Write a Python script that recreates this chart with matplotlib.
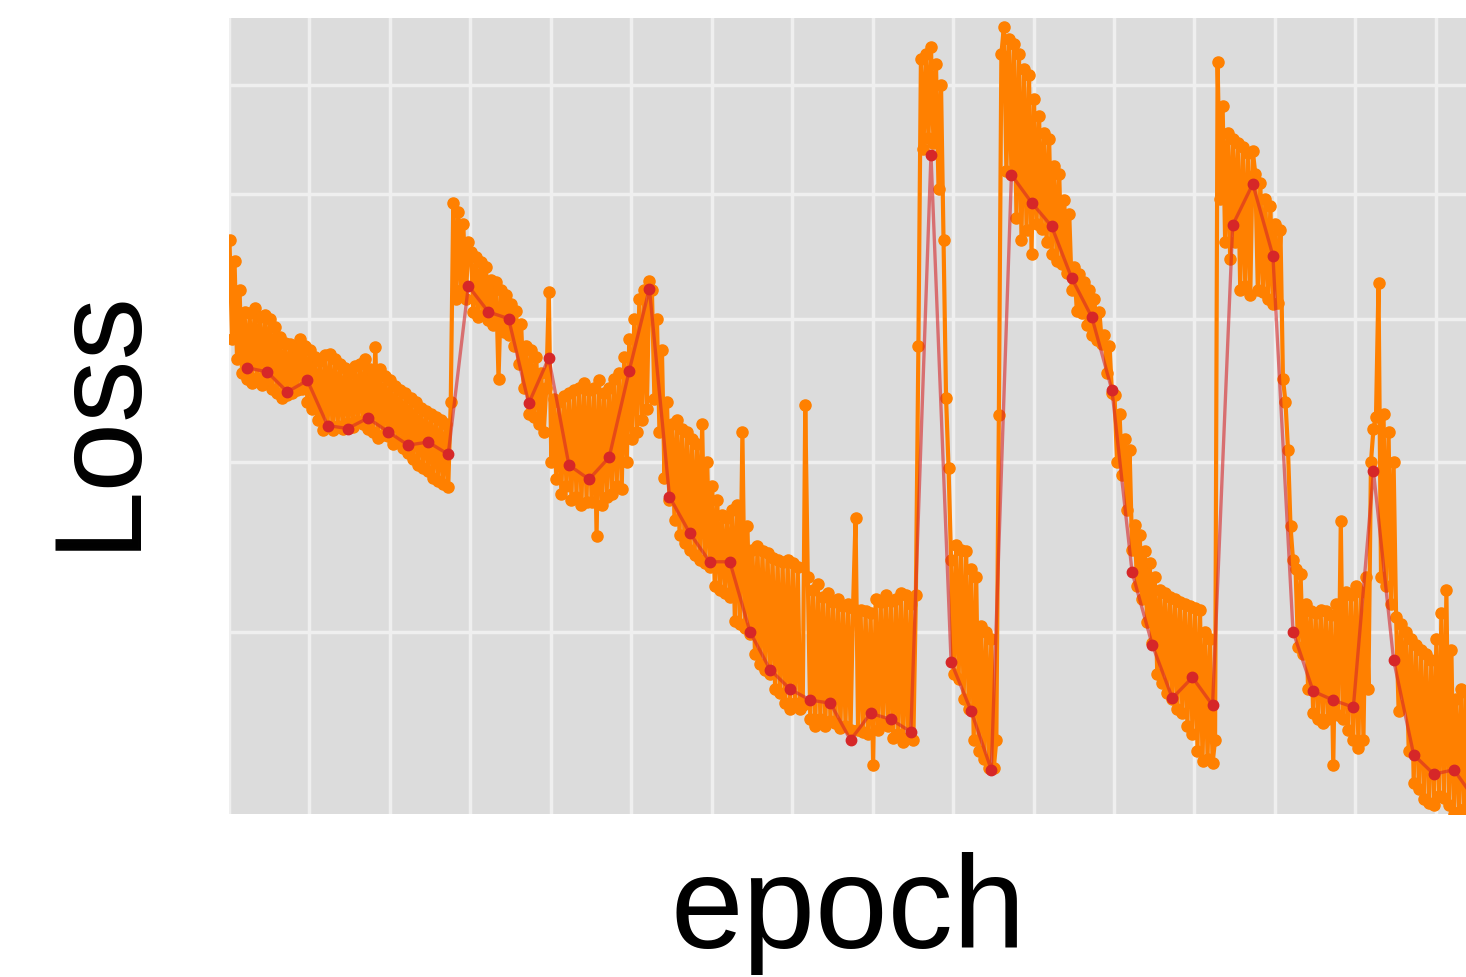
import numpy as np
import matplotlib
matplotlib.use("Agg")
import matplotlib.pyplot as plt

# per-iteration training loss, 8 readings per epoch (rows = epochs)
iter_loss = [
    [0.762, 0.685, 0.745, 0.670, 0.722, 0.660, 0.705, 0.656],
    [0.704, 0.653, 0.708, 0.657, 0.701, 0.652, 0.703, 0.655],
    [0.700, 0.649, 0.694, 0.646, 0.686, 0.643, 0.682, 0.645],
    [0.681, 0.646, 0.678, 0.648, 0.685, 0.649, 0.680, 0.640],
    [0.677, 0.635, 0.672, 0.628, 0.669, 0.621, 0.673, 0.624],
    [0.674, 0.621, 0.670, 0.624, 0.667, 0.622, 0.664, 0.626],
    [0.660, 0.623, 0.665, 0.627, 0.667, 0.625, 0.670, 0.622],
    [0.663, 0.620, 0.679, 0.616, 0.663, 0.618, 0.658, 0.617],
    [0.655, 0.612, 0.651, 0.614, 0.648, 0.609, 0.646, 0.606],
    [0.643, 0.602, 0.640, 0.598, 0.636, 0.596, 0.634, 0.594],
    [0.632, 0.590, 0.630, 0.588, 0.628, 0.586, 0.625, 0.584],
    [0.640, 0.793, 0.715, 0.785, 0.722, 0.775, 0.715, 0.760],
    [0.752, 0.705, 0.748, 0.701, 0.744, 0.703, 0.740, 0.699],
    [0.730, 0.695, 0.728, 0.656, 0.722, 0.690, 0.718, 0.688],
    [0.711, 0.680, 0.706, 0.667, 0.696, 0.650, 0.680, 0.632],
    [0.677, 0.630, 0.672, 0.625, 0.660, 0.620, 0.650, 0.720],
    [0.600, 0.642, 0.589, 0.640, 0.580, 0.644, 0.585, 0.646],
    [0.576, 0.648, 0.578, 0.650, 0.573, 0.653, 0.575, 0.648],
    [0.575, 0.650, 0.554, 0.655, 0.573, 0.646, 0.578, 0.650],
    [0.580, 0.656, 0.585, 0.660, 0.583, 0.672, 0.600, 0.685],
    [0.615, 0.700, 0.620, 0.715, 0.628, 0.722, 0.635, 0.729],
    [0.722, 0.642, 0.700, 0.620, 0.677, 0.590, 0.640, 0.576],
    [0.625, 0.564, 0.628, 0.555, 0.622, 0.550, 0.620, 0.546],
    [0.615, 0.543, 0.612, 0.540, 0.625, 0.538, 0.600, 0.536],
    [0.585, 0.525, 0.576, 0.523, 0.567, 0.521, 0.565, 0.519],
    [0.570, 0.506, 0.573, 0.504, 0.620, 0.502, 0.560, 0.499],
    [0.546, 0.488, 0.548, 0.483, 0.545, 0.480, 0.544, 0.478],
    [0.541, 0.470, 0.540, 0.468, 0.539, 0.463, 0.540, 0.460],
    [0.538, 0.463, 0.536, 0.460, 0.462, 0.638, 0.530, 0.455],
    [0.523, 0.452, 0.526, 0.455, 0.519, 0.452, 0.521, 0.454],
    [0.516, 0.453, 0.518, 0.451, 0.514, 0.452, 0.515, 0.450],
    [0.513, 0.565, 0.450, 0.512, 0.449, 0.511, 0.448, 0.510],
    [0.433, 0.518, 0.450, 0.516, 0.453, 0.520, 0.452, 0.517],
    [0.446, 0.518, 0.448, 0.521, 0.444, 0.520, 0.446, 0.515],
    [0.445, 0.520, 0.680, 0.925, 0.840, 0.930, 0.850, 0.937],
    [0.845, 0.920, 0.805, 0.900, 0.762, 0.643, 0.596, 0.540],
    [0.478, 0.549, 0.475, 0.546, 0.465, 0.545, 0.460, 0.535],
    [0.445, 0.530, 0.440, 0.503, 0.436, 0.500, 0.432, 0.496],
    [0.432, 0.445, 0.631, 0.930, 0.958, 0.820, 0.945, 0.818],
    [0.940, 0.780, 0.930, 0.762, 0.915, 0.770, 0.910, 0.750],
    [0.886, 0.775, 0.870, 0.771, 0.855, 0.760, 0.849, 0.750],
    [0.825, 0.745, 0.818, 0.742, 0.795, 0.735, 0.783, 0.722],
    [0.740, 0.706, 0.734, 0.704, 0.728, 0.695, 0.722, 0.688],
    [0.715, 0.684, 0.705, 0.681, 0.688, 0.660, 0.680, 0.646],
    [0.645, 0.600, 0.632, 0.592, 0.615, 0.570, 0.608, 0.546],
    [0.561, 0.525, 0.555, 0.518, 0.545, 0.505, 0.538, 0.494],
    [0.530, 0.478, 0.523, 0.473, 0.521, 0.468, 0.519, 0.465],
    [0.518, 0.460, 0.516, 0.458, 0.515, 0.452, 0.514, 0.448],
    [0.513, 0.440, 0.512, 0.435, 0.500, 0.436, 0.496, 0.434],
    [0.445, 0.922, 0.796, 0.880, 0.760, 0.855, 0.746, 0.849],
    [0.760, 0.845, 0.722, 0.842, 0.725, 0.836, 0.718, 0.838],
    [0.818, 0.722, 0.810, 0.720, 0.796, 0.715, 0.790, 0.711],
    [0.775, 0.712, 0.770, 0.656, 0.640, 0.608, 0.560, 0.540],
    [0.535, 0.492, 0.532, 0.488, 0.515, 0.470, 0.511, 0.458],
    [0.510, 0.455, 0.512, 0.453, 0.511, 0.455, 0.509, 0.433],
    [0.515, 0.457, 0.563, 0.455, 0.522, 0.450, 0.520, 0.445],
    [0.525, 0.441, 0.522, 0.445, 0.530, 0.470, 0.600, 0.622],
    [0.630, 0.727, 0.530, 0.632, 0.525, 0.620, 0.515, 0.600],
    [0.508, 0.459, 0.504, 0.462, 0.500, 0.440, 0.496, 0.425],
    [0.493, 0.422, 0.490, 0.4175, 0.488, 0.416, 0.485, 0.415],
    [0.496, 0.419, 0.510, 0.418, 0.523, 0.415, 0.490, 0.411],
    [0.465, 0.412, 0.470, 0.413, 0.468, 0.411, 0.470, 0.411],
]

# loss at the end of each epoch
epoch_loss = [
    0.664, 0.661, 0.647, 0.655, 0.624, 0.622, 0.629, 0.620, 0.611, 0.613,
    0.605, 0.725, 0.705, 0.700, 0.639, 0.671, 0.598, 0.589, 0.603, 0.662,
    0.723, 0.578, 0.556, 0.539, 0.539, 0.500, 0.480, 0.470, 0.4645, 0.463,
    0.445, 0.458, 0.455, 0.449, 0.835, 0.484, 0.459, 0.431, 0.817, 0.793,
    0.773, 0.731, 0.701, 0.648, 0.533, 0.493, 0.4655, 0.476, 0.462, 0.774,
    0.809, 0.749, 0.500, 0.469, 0.4645, 0.461, 0.594, 0.485, 0.438, 0.429,
    0.431, 0.418,
]

per_epoch = len(iter_loss[0])
it_y = np.array(iter_loss).ravel()
it_x = np.arange(1, len(it_y) + 1) / per_epoch
ep_y = np.array(epoch_loss)
ep_x = np.arange(1, len(ep_y) + 1)

fig = plt.figure(figsize=(14.66, 9.78), dpi=100)
ax = fig.add_axes([229 / 1466, 163 / 978, 1 - 229 / 1466, (815 - 19) / 978])
ax.set_facecolor("#dcdcdc")

ax.plot(it_x, it_y, color="#ff8000", lw=3, marker="o", ms=8,
        mec="#ff8000", zorder=3)
ax.plot(ep_x, ep_y, color="#d62728", lw=2.4, alpha=0.6, zorder=4)
ax.plot(ep_x, ep_y, color="#d62728", lw=0, marker="o", ms=7.5, zorder=5)

ax.set_yscale("log")
ax.set_xlim(0.1, 61.6)
ax.set_ylim(0.411, 0.967)
ax.set_xticks(np.arange(0.1, 62, 4))
ax.set_yticks([0.5, 0.6, 0.7, 0.8, 0.9])
ax.yaxis.set_minor_locator(matplotlib.ticker.NullLocator())
ax.set_xticklabels([])
ax.set_yticklabels([])
ax.tick_params(length=0)
ax.grid(True, color="#efefef", lw=2.5, zorder=0)
ax.set_axisbelow(True)
for s in ax.spines.values():
    s.set_visible(False)

fig.text(100 / 1466, 1 - 418 / 978, "Loss", rotation=90, ha="center", va="center",
         fontsize=90, family="Liberation Sans")
fig.text(848 / 1466, 1 - 948 / 978, "epoch", ha="center", va="baseline",
         fontsize=94, family="Liberation Sans")

fig.savefig("out.png", dpi=100)
